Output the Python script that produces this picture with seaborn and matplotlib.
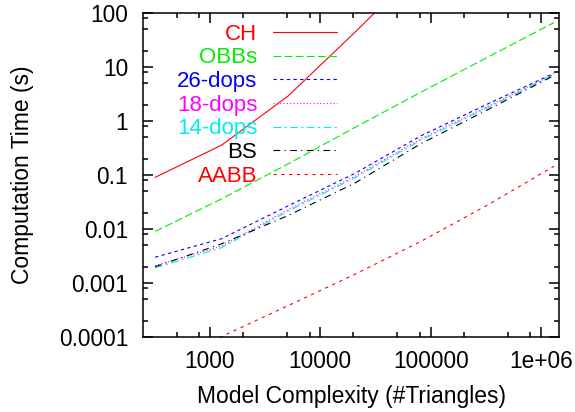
import numpy as np
import pandas as pd
import matplotlib
matplotlib.use("Agg")
import matplotlib.pyplot as plt
from matplotlib.ticker import FixedLocator, LogLocator, NullFormatter
import seaborn as sns

# triangles of the subdivided meshes
triangles = [320, 1280, 5120, 20480, 81920, 327680, 1310720]

ch = [0.090, 0.356, 2.88, 43.0, 700.0]
obbs = [0.009, 0.036, 0.16, 0.75, 3.4, 15.0, 66.0]
dops26 = [0.0030, 0.0066, 0.0267, 0.106, 0.53, 2.05, 7.6]
dops18 = [0.0021, 0.0048, 0.0229, 0.093, 0.47, 1.85, 7.3]
dops14 = [0.0019, 0.0045, 0.0214, 0.088, 0.44, 1.75, 7.2]
bs = [0.0020, 0.0053, 0.0177, 0.070, 0.38, 1.60, 6.9]
aabb = [0.00003, 0.000102, 0.00038, 0.00144, 0.0059, 0.0277, 0.145]

names = ["CH", "OBBs", "26-dops", "18-dops", "14-dops", "BS", "AABB"]
series = [ch, obbs, dops26, dops18, dops14, bs, aabb]

colors = {"CH": "#ff0000", "OBBs": "#00ee00", "26-dops": "#0000ff",
          "18-dops": "#ff00ff", "14-dops": "#00eeee", "BS": "#000000",
          "AABB": "#ff0000"}
dashes = {"CH": "", "OBBs": (7, 3), "26-dops": (3, 3), "18-dops": (1, 2),
          "14-dops": (7, 3, 2, 3), "BS": (6, 4, 1, 4), "AABB": (3, 4)}

rows = []
for name, vals in zip(names, series):
    for x, y in zip(triangles, vals):
        rows.append({"tri": x, "time": y, "method": name})
df = pd.DataFrame(rows)

sns.set_style("ticks")
plt.rcParams["font.family"] = ["Liberation Sans", "DejaVu Sans"]
plt.rcParams.update({"text.color": "black", "axes.labelcolor": "black",
                     "xtick.color": "black", "ytick.color": "black"})

fig = plt.figure(figsize=(5.75, 4.12), dpi=100)
ax = fig.add_axes([0.2492, 0.182, 0.7228, 0.787])

sns.lineplot(data=df, x="tri", y="time", hue="method", style="method",
             hue_order=names, style_order=names, palette=colors,
             dashes=dashes, linewidth=0.8, legend=False, ax=ax)

ax.set_xscale("log")
ax.set_yscale("log")
ax.set_xlim(250, 1.45e6)
ax.set_ylim(1e-4, 100)

ax.xaxis.set_major_locator(FixedLocator([1e3, 1e4, 1e5, 1e6]))
ax.set_xticklabels(["1000", "10000", "100000", "1e+06"])
ax.xaxis.set_minor_locator(LogLocator(base=10, subs=(2, 5, 8)))
ax.xaxis.set_minor_formatter(NullFormatter())
ax.yaxis.set_major_locator(FixedLocator([1e-4, 1e-3, 1e-2, 1e-1, 1, 10, 100]))
ax.set_yticklabels(["0.0001", "0.001", "0.01", "0.1", "1", "10", "100"])
ax.yaxis.set_minor_locator(LogLocator(base=10, subs=(2, 5, 8)))
ax.yaxis.set_minor_formatter(NullFormatter())

ax.tick_params(which="both", direction="in", top=True, right=True,
               width=1.1, color="black", labelcolor="black")
ax.tick_params(which="major", length=7, labelsize=16.3)
ax.tick_params(axis="x", which="major", pad=9)
ax.tick_params(axis="y", which="major", pad=11)
ax.tick_params(which="minor", length=3.5)
for sp in ax.spines.values():
    sp.set_visible(True)
    sp.set_linewidth(1.1)
    sp.set_color("black")

ax.set_xlabel("Model Complexity (#Triangles)", fontsize=16.5, labelpad=9,
              color="black")
ax.set_ylabel("Computation Time (s)", fontsize=16.5, labelpad=18,
              color="black")

leg = ax.legend(ax.get_lines()[:len(names)], names, loc="upper right",
                bbox_to_anchor=(0.4667, 0.966), frameon=False,
                markerfirst=False, labelcolor="linecolor",
                fontsize=16, handlelength=2.9, handletextpad=0.7,
                labelspacing=0.12, borderpad=0, borderaxespad=0)
for col in leg._legend_handle_box.get_children():
    col.align = "right"

fig.savefig("out.png", dpi=100)
